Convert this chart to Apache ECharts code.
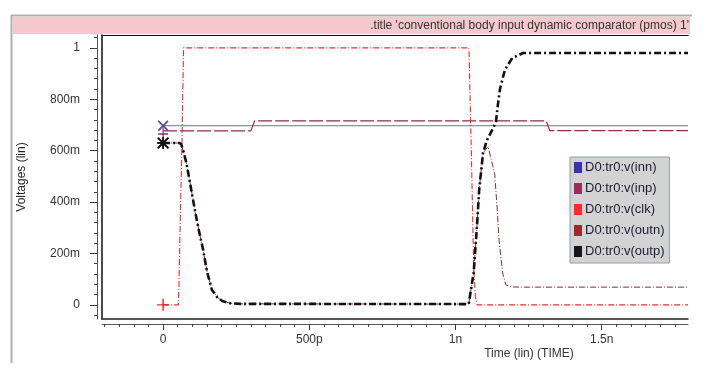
<!DOCTYPE html>
<html>
<head>
<meta charset="utf-8">
<script src="https://cdn.jsdelivr.net/npm/echarts@6/dist/echarts.min.js"></script>
<style>html,body{margin:0;padding:0;background:#fff;}#c{width:721px;height:368px;}</style>
</head>
<body>
<div id="c"></div>
<script>
// ---- data (time in ps, voltage in V) ----
const seriesNames = ['D0:tr0:v(inn)', 'D0:tr0:v(inp)', 'D0:tr0:v(clk)', 'D0:tr0:v(outn)', 'D0:tr0:v(outp)'];
const inn = [[0, 0.697], [1795, 0.697]];
const inp = [[0, 0.677], [300, 0.677], [313, 0.716], [1310, 0.716], [1322, 0.678], [1795, 0.678]];
const clk = [[0, 0], [52, 0], [54, 0.07], [60, 0.4], [64, 0.6], [70, 1.0], [1046, 1.0], [1050, 0.8], [1054, 0.6], [1062, 0.15], [1068, 0.03], [1074, 0], [1795, 0]];
const outn = [[0, 0.63], [55, 0.63], [62, 0.625], [70, 0.595], [80, 0.55], [92, 0.475], [110, 0.36], [124, 0.28], [137, 0.214], [150, 0.13], [167, 0.058], [185, 0.03], [202, 0.015], [230, 0.006], [264, 0.004], [1045, 0.003], [1051, 0.01], [1062, 0.125], [1073, 0.30], [1081, 0.45], [1094, 0.59], [1111, 0.616], [1134, 0.51], [1142, 0.38], [1149, 0.25], [1161, 0.124], [1172, 0.078], [1190, 0.07], [1220, 0.069], [1795, 0.069]];
const outp = [[0, 0.63], [55, 0.63], [62, 0.625], [70, 0.595], [80, 0.55], [92, 0.475], [110, 0.36], [124, 0.28], [137, 0.214], [150, 0.13], [167, 0.058], [185, 0.03], [202, 0.015], [230, 0.006], [264, 0.004], [1045, 0.003], [1051, 0.01], [1062, 0.125], [1073, 0.30], [1081, 0.45], [1094, 0.59], [1107, 0.64], [1125, 0.68], [1138, 0.71], [1145, 0.78], [1152, 0.84], [1169, 0.915], [1194, 0.96], [1231, 0.98], [1795, 0.98]];

const xMajorTicks = [0, 500, 1000, 1500];
const xTickLabels = ['0', '500p', '1n', '1.5n'];
const yMajorTicks = [0, 0.2, 0.4, 0.6, 0.8, 1];
const yTickLabels = ['0', '200m', '400m', '600m', '800m', '1'];
const titleText = ".title 'conventional body input dynamic comparator (pmos) 1'";
const xAxisTitle = 'Time (lin) (TIME)';
const yAxisTitle = 'Voltages (lin)';

const xMin = -209, xMax = 1795, yMin = -0.055, yMax = 1.05;
const xMinorTicks = [];
for (let t = -200; t <= 1750; t += 50) xMinorTicks.push(t);
const yMinorTicks = [];
for (let k = -1; k <= 26; k++) yMinorTicks.push(+(k * 0.04).toFixed(3));

const FONT = "'Liberation Sans', Arial, sans-serif";
const P_X = 'path://M0,1.2L1.2,0L10,8.8L8.8,10ZM8.8,0L10,1.2L1.2,10L0,8.8Z';
const P_PLUS = 'path://M4.4,0h1.2v10h-1.2zM0,4.4h10v1.2h-10z';
const P_STAR = 'path://M4.3,0h1.4v10h-1.4zM0,4.3h10v1.4h-10zM0,1L1,0L10,9L9,10ZM9,0L10,1L1,10L0,9Z';

function marker(path, size, color, pt) {
  return { symbol: path, symbolSize: size, itemStyle: { color: color }, label: { show: false }, silent: true, data: [{ coord: pt }] };
}

const chart = echarts.init(document.getElementById('c'), null, { renderer: 'canvas' });
const labelOf = (ticks, labels) => v => { const i = ticks.findIndex(t => Math.abs(t - v) < 1e-9); return i >= 0 ? labels[i] : ''; };

chart.setOption({
  animation: false,
  backgroundColor: '#fff',
  grid: { left: 102, right: 33, top: 35, bottom: 49, containLabel: false },
  legend: {
    orient: 'vertical', left: 570, top: 157,
    data: seriesNames, icon: 'rect', itemWidth: 8, itemHeight: 11, itemGap: 8,
    padding: [4, 5, 5, 4],
    backgroundColor: '#d3d3d3', borderColor: '#8fa0aa', borderWidth: 1,
    textStyle: { fontFamily: FONT, fontSize: 13, color: '#1b1b33', padding: [0, 0, 0, -2] },
    selectedMode: false
  },
  xAxis: [
    { type: 'value', min: xMin, max: xMax, position: 'bottom', axisLine: { show: true, onZero: false, lineStyle: { color: '#222', width: 1.5 } }, axisTick: { show: false }, axisLabel: { show: false }, splitLine: { show: false } },
    { type: 'value', min: xMin, max: xMax, position: 'top', axisLine: { show: true, onZero: false, lineStyle: { color: '#111', width: 1.2 } }, axisTick: { show: false }, axisLabel: { show: false }, splitLine: { show: false } },
    { type: 'value', min: xMin, max: xMax, position: 'bottom', offset: 5,
      axisLine: { show: true, onZero: false, lineStyle: { color: '#555', width: 1 } },
      axisTick: { show: true, customValues: xMajorTicks, length: 6, lineStyle: { color: '#333' } },
      axisLabel: { show: true, customValues: xMajorTicks, formatter: labelOf(xMajorTicks, xTickLabels), margin: 10, fontFamily: FONT, fontSize: 12, color: '#333' },
      splitLine: { show: false } },
    { type: 'value', min: xMin, max: xMax, position: 'bottom', offset: 5,
      axisLine: { show: false, onZero: false }, axisTick: { show: true, customValues: xMinorTicks, length: 3, lineStyle: { color: '#444' } },
      axisLabel: { show: false }, splitLine: { show: false } }
  ],
  yAxis: [
    { type: 'value', min: yMin, max: yMax, position: 'left', axisLine: { show: true, onZero: false, lineStyle: { color: '#111', width: 1.5 } }, axisTick: { show: false }, axisLabel: { show: false }, splitLine: { show: false } },
    { type: 'value', min: yMin, max: yMax, position: 'left', offset: 5,
      name: yAxisTitle, nameLocation: 'middle', nameGap: 69, nameRotate: 90,
      nameTextStyle: { fontFamily: FONT, fontSize: 12, color: '#222' },
      axisLine: { show: true, onZero: false, lineStyle: { color: '#555', width: 1 } },
      axisTick: { show: true, customValues: yMajorTicks, length: 7, lineStyle: { color: '#333' } },
      axisLabel: { show: true, customValues: yMajorTicks, formatter: labelOf(yMajorTicks, yTickLabels), margin: 17, fontFamily: FONT, fontSize: 12, color: '#333' },
      splitLine: { show: false } },
    { type: 'value', min: yMin, max: yMax, position: 'left', offset: 5,
      axisLine: { show: false, onZero: false }, axisTick: { show: true, customValues: yMinorTicks, length: 3, lineStyle: { color: '#444' } },
      axisLabel: { show: false }, splitLine: { show: false } }
  ],
  graphic: [
    { type: 'line', shape: { x1: 11, y1: 15.5, x2: 692, y2: 15.5 }, style: { stroke: '#b0b0b0', lineWidth: 2 }, silent: true },
    { type: 'line', shape: { x1: 11.5, y1: 15, x2: 11.5, y2: 363 }, style: { stroke: '#b0b0b0', lineWidth: 2 }, silent: true },
    { type: 'rect', shape: { x: 13, y: 17, width: 677, height: 17 }, style: { fill: '#f5c8cc' }, silent: true, z: -1 },
    { type: 'text', x: 689, y: 25.5, style: { text: titleText, align: 'right', verticalAlign: 'middle', font: '12px ' + FONT, fill: '#333' }, silent: true },
    { type: 'text', x: 529, y: 354, style: { text: xAxisTitle, align: 'center', verticalAlign: 'middle', font: '12px ' + FONT, fill: '#333' }, silent: true }
  ],
  series: [
    { name: seriesNames[0], type: 'line', data: inn, symbol: 'none', xAxisIndex: 0, yAxisIndex: 0,
      itemStyle: { color: '#3535a5' }, lineStyle: { color: '#6a6ac0', width: 1 },
      markPoint: marker(P_X, 11, '#5a4aa8', inn[0]) },
    { name: seriesNames[1], type: 'line', data: inp, symbol: 'none', xAxisIndex: 0, yAxisIndex: 0,
      itemStyle: { color: '#9c2c5c' }, lineStyle: { color: '#8e2a4a', width: 1.2, type: [14, 3] },
      markPoint: marker(P_PLUS, [10, 13], '#8a3060', [inp[0][0], inp[0][1] - 0.012]) },
    { name: seriesNames[2], type: 'line', data: clk, symbol: 'none', xAxisIndex: 0, yAxisIndex: 0,
      itemStyle: { color: '#ff2a2a' }, lineStyle: { color: '#e53030', width: 1.1, type: [6, 2, 1, 2] },
      markPoint: marker(P_PLUS, 12, '#e02828', clk[0]) },
    { name: seriesNames[3], type: 'line', data: outn, symbol: 'none', xAxisIndex: 0, yAxisIndex: 0,
      itemStyle: { color: '#a0282c' }, lineStyle: { color: '#8a2a2a', width: 1, type: [6, 2, 1, 2] },
      markPoint: marker(P_STAR, 11, '#222', outn[0]) },
    { name: seriesNames[4], type: 'line', data: outp, symbol: 'none', xAxisIndex: 0, yAxisIndex: 0,
      itemStyle: { color: '#151520' }, lineStyle: { color: '#111', width: 2.6, type: [7, 3, 2, 3] },
      markPoint: marker(P_STAR, 12, '#111', outp[0]) }
  ]
});
</script>
</body>
</html>
